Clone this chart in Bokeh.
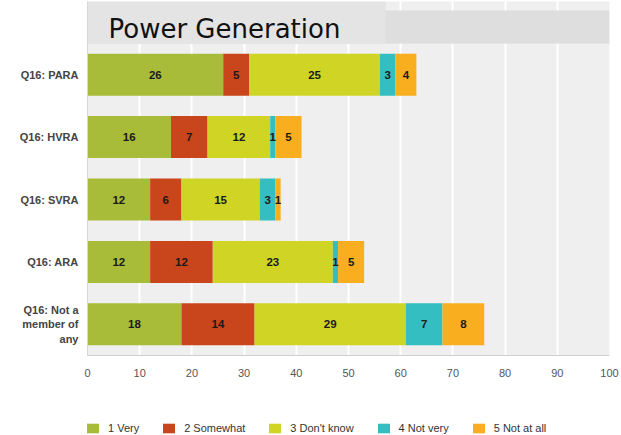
from bokeh.plotting import figure
from bokeh.layouts import column
from bokeh.models import ColumnDataSource, Legend, LegendItem, FixedTicker, Range1d
from bokeh.core.properties import value
from bokeh.embed import file_html
from bokeh.resources import INLINE

categories = ["Q16: PARA", "Q16: HVRA", "Q16: SVRA", "Q16: ARA", "Q16: Not a\nmember of\nany"]
series_names = ["1 Very", "2 Somewhat", "3 Don't know", "4 Not very", "5 Not at all"]
very = [26, 16, 12, 12, 18]
somewhat = [5, 7, 6, 12, 14]
dont_know = [25, 12, 15, 23, 29]
not_very = [3, 1, 3, 1, 7]
not_at_all = [4, 5, 1, 5, 8]
x_ticks = [0, 10, 20, 30, 40, 50, 60, 70, 80, 90, 100]
title_text = "Power Generation"

colors = ["#a9bc3a", "#c9461c", "#d0d425", "#35bec1", "#f8ae1f"]
keys = ["s0", "s1", "s2", "s3", "s4"]
series = [very, somewhat, dont_know, not_very, not_at_all]

n = len(categories)
ypos = [n - 0.5 - i for i in range(n)]
data = {"y": ypos}
for k, s in zip(keys, series):
    data[k] = s
src = ColumnDataSource(data)

SLOT = 62.4      # px per category
PXU = 5.22       # px per x unit
W, H = 621, 392
p = figure(width=W, height=H, output_backend="svg", toolbar_location=None,
           x_range=Range1d(0, 100), y_range=Range1d(0, n + 42 / SLOT))
p.min_border_left = 87
p.min_border_right = 12
p.min_border_top = 1
p.min_border_bottom = 37
p.outline_line_color = None
p.background_fill_color = "#efefef"
p.border_fill_color = "white"

# header band and title box
p.quad(left=[0], right=[100], bottom=[n], top=[n + 33 / SLOT], fill_color="#dedede", line_color=None)
p.quad(left=[0], right=[298 / PXU], bottom=[n], top=[n + 42 / SLOT], fill_color="#e4e4e4", line_color=None)
p.text(x=[21 / PXU], y=[n + 15 / SLOT], text=[title_text], text_font=value("DejaVu Sans"),
       text_font_size="26px", text_color="#111111", text_baseline="middle", text_align="left")

p.hbar_stack(keys, y="y", height=0.673, color=colors, source=src, line_color=None)

# value labels
lx, ly, lt = [], [], []
for i in range(n):
    cum = 0
    for s in series:
        v = s[i]
        lx.append(cum + v / 2)
        ly.append(ypos[i])
        lt.append(str(v))
        cum += v
p.text(x=lx, y=ly, text=lt, text_font=value("Liberation Sans"), text_font_style="bold",
       text_font_size="11.5px", text_color="#1a1a1a", text_align="center", text_baseline="middle")

# axes
p.xaxis.ticker = FixedTicker(ticks=x_ticks)
p.xaxis.axis_line_color = "#cfcfcf"
p.xaxis.major_tick_line_color = None
p.xaxis.minor_tick_line_color = None
p.xaxis.major_tick_out = 0
p.xaxis.major_tick_in = 0
p.xaxis.major_label_standoff = 13
p.xaxis.major_label_text_font = "Liberation Sans"
p.xaxis.major_label_text_font_size = "11px"
p.xaxis.major_label_text_color = "#555555"

p.yaxis.ticker = FixedTicker(ticks=ypos)
p.yaxis.major_label_overrides = {y: c for y, c in zip(ypos, categories)}
p.yaxis.axis_line_color = "#d6d6d6"
p.yaxis.major_tick_line_color = None
p.yaxis.minor_tick_line_color = None
p.yaxis.major_tick_out = 0
p.yaxis.major_tick_in = 0
p.yaxis.major_label_standoff = 9
p.yaxis.major_label_text_font = "Liberation Sans"
p.yaxis.major_label_text_font_style = "bold"
p.yaxis.major_label_text_font_size = "11px"
p.yaxis.major_label_text_color = "#444444"
p.yaxis.major_label_text_align = "right"

p.xgrid.grid_line_color = "white"
p.xgrid.grid_line_width = 2
p.ygrid.grid_line_color = None

# legend strip
lg = figure(width=W, height=435 - H, output_backend="svg", toolbar_location=None,
            x_range=Range1d(0, 1), y_range=Range1d(0, 1))
lg.min_border_left = 0
lg.min_border_right = 0
lg.min_border_top = 0
lg.min_border_bottom = 0
lg.outline_line_color = None
lg.axis.visible = False
lg.grid.visible = False
lg.background_fill_color = "white"
lrs = [lg.hbar(y=[-5], left=[0], right=[1], height=0.5, color=c, line_color=None) for c in colors]
items = [LegendItem(label=nm, renderers=[r]) for nm, r in zip(series_names, lrs)]
legend = Legend(items=items, orientation="horizontal", location=(-2, 1),
                padding=0, margin=0, spacing=22, label_standoff=8,
                glyph_width=15, glyph_height=12,
                label_text_font="Liberation Sans", label_text_font_size="11px",
                label_text_color="#333333", border_line_color=None,
                background_fill_alpha=0)
lg.add_layout(legend, "center")

layout = column(p, lg, spacing=0)
open("out.html", "w").write(file_html(layout, INLINE))
